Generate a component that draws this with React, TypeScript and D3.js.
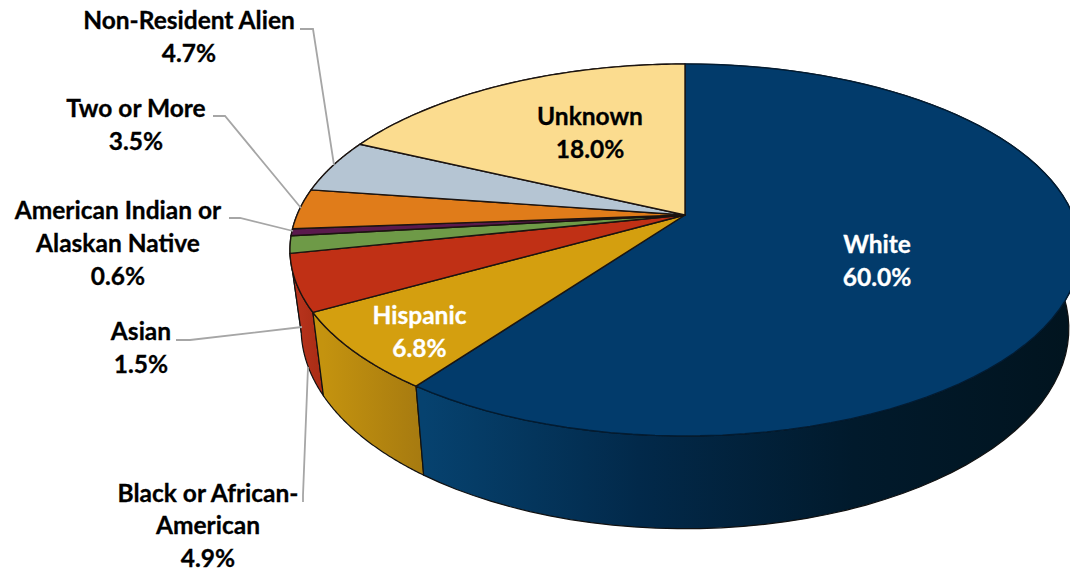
import React from "react";
import * as d3 from "d3";

// ---- data ----
const categories = ["White", "Hispanic", "Black or African-American", "Asian", "American Indian or Alaskan Native", "Two or More", "Non-Resident Alien", "Unknown"];
const shares = [60.0, 6.8, 4.9, 1.5, 0.6, 3.5, 4.7, 18.0];
const labelNames = [["White"], ["Hispanic"], ["Black or African-", "American"], ["Asian"], ["American Indian or", "Alaskan Native"], ["Two or More"], ["Non-Resident Alien"], ["Unknown"]];

// ---- styles ----
const topColors = ["#023b6b", "#d49f0f", "#c03015", "#6e9a47", "#5a1a4d", "#e07c1a", "#b5c5d3", "#fbdc8f"];
const wallStops = [
  ["#06426f", "#02294a", "#011a2c", "#01141f"],
  ["#c4930f", "#a67a10"],
  ["#b5321b", "#a82c14"],
  ["#5f8a3d", "#5f8a3d"],
  ["#4d1541", "#4d1541"],
  ["#c06a15", "#c06a15"],
  ["#9aa9b6", "#9aa9b6"],
  ["#d4ba78", "#d4ba78"],
];
const labelColors = ["#fff", "#fff", "#000", "#000", "#000", "#000", "#000", "#000"];
const labelX = [877, 419.5, 208, 141, 118, 136, 189, 590];
const labelY = [253, 324, 501.5, 340, 219, 117, 29, 125];
const lineGap = 32.8;
const leaders: [number, number][][] = [
  [],
  [],
  [[303, 502], [303, 495], [308, 367]],
  [[176, 340], [190, 340], [302, 327]],
  [[229, 218], [240, 218], [293, 231]],
  [[213, 116], [225, 116], [301, 208]],
  [[300, 29], [313, 29], [334, 165]],
  [],
];

// ---- perspective of the disc ----
const cx = 685;
const k = 0.188;
const topFace = { A: 388, B: 179.4, c: 215 };
const botFace = { A: 377, B: 193, c: 291 };
const project = (f: { A: number; B: number; c: number }, a: number): [number, number] => {
  const u = Math.sin(a);
  const v = -Math.cos(a);
  const d = 1 - k * v;
  return [cx + (f.A * u) / d, f.c + (f.B * v) / d];
};
const samples = (a0: number, a1: number) => d3.range(0, 81).map((i) => a0 + ((a1 - a0) * i) / 80);

export default function App() {
  const arcs = d3.pie<number>().sort(null).startAngle(0).endAngle(2 * Math.PI)(shares);
  const line = d3.line();
  const fmt = d3.format(".1f");
  const wallOrder = arcs.map((_, i) => i).reverse();
  return (
    <svg width={1070} height={572} style={{ position: "absolute", left: 0, top: 0, background: "#fff" }} fontFamily="Lato, Carlito, sans-serif" fontWeight={700}>
      <defs>
        {arcs.map((a, i) => {
          const xs = samples(a.startAngle, a.endAngle).map((t) => project(botFace, t)[0]);
          const [x0, x1] = d3.extent(xs) as [number, number];
          const stops = wallStops[i];
          return (
            <linearGradient key={i} id={`wall${i}`} gradientUnits="userSpaceOnUse" x1={x0} x2={x1} y1={0} y2={0}>
              {stops.map((c, j) => (
                <stop key={j} offset={j / (stops.length - 1)} stopColor={c} />
              ))}
            </linearGradient>
          );
        })}
      </defs>
      {wallOrder.map((i) => {
        const a = arcs[i];
        const t = samples(a.startAngle, a.endAngle);
        const pts = [...t.map((x) => project(topFace, x)), ...t.slice().reverse().map((x) => project(botFace, x))];
        return <path key={i} d={line(pts) + "Z"} fill={`url(#wall${i})`} stroke="#111" strokeWidth={1.2} strokeLinejoin="round" />;
      })}
      {arcs.map((a, i) => {
        const pts = [[cx, topFace.c] as [number, number], ...samples(a.startAngle, a.endAngle).map((x) => project(topFace, x))];
        return <path key={i} d={line(pts) + "Z"} fill={topColors[i]} stroke={i === 0 ? "#021c33" : "#1c1410"} strokeWidth={1.4} strokeLinejoin="round" />;
      })}
      {leaders.map((l, i) => l.length > 0 && <path key={i} d={line(l) as string} fill="none" stroke="#a6a6a6" strokeWidth={1.8} />)}
      {categories.map((c, i) => (
        <text key={c} fill={labelColors[i]} stroke={labelColors[i]} strokeWidth={0.3} fontSize={24.5} textAnchor="middle">
          {[...labelNames[i], `${fmt(shares[i])}%`].map((s, j) => (
            <tspan key={j} x={labelX[i]} y={labelY[i] + j * lineGap}>{s}</tspan>
          ))}
        </text>
      ))}
    </svg>
  );
}
